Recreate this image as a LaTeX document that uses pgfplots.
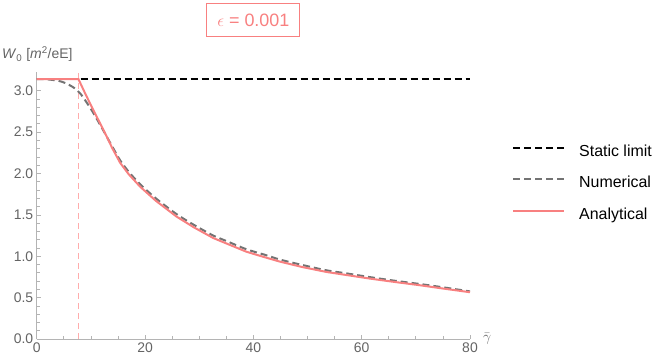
\documentclass[border=0pt]{standalone}
\usepackage{pgfplots}
\pgfplotsset{compat=1.18}
\usepackage{fontspec}
\setmainfont{Liberation Sans}
\definecolor{anaRed}{RGB}{248,128,128}
\definecolor{vertPink}{RGB}{255,172,172}
\definecolor{numGray}{RGB}{115,115,115}
\definecolor{axGray}{RGB}{180,180,180}
\definecolor{lblGray}{RGB}{100,100,100}

\begin{document}
\begin{tikzpicture}
\begin{axis}[
    scale only axis,
    width=433.3bp, height=267.3bp,
    xmin=0, xmax=80, ymin=0, ymax=3.23,
    axis lines=left,
    axis line style={-, color=axGray, line width=0.9bp},
    xtick={0,20,40,60,80}, minor x tick num=3,
    ytick={0,0.5,1.0,1.5,2.0,2.5,3.0}, minor y tick num=4,
    tick align=inside,
    major tick length=4.5bp, minor tick length=3bp,
    tick style={color=axGray, line width=0.7bp},
    tick label style={font=\fontsize{14}{14}\selectfont, color=lblGray},
    /pgf/number format/assume math mode=true,
    yticklabel style={/pgf/number format/.cd, fixed, fixed zerofill, precision=1},
    clip=false,
    legend style={draw=none, fill=none, at={(1,0.580)}, anchor=west,
        xshift=42bp, inner sep=0pt, row sep=16.5bp,
        font=\fontsize{16}{16}\selectfont,
        nodes={inner sep=0pt, text height=11.5bp, text depth=3.5bp}},
    legend cell align=left,
    legend image code/.code={\draw[#1] (0bp,4.5bp) -- (51bp,4.5bp);},
    /tikz/every odd column/.append style={column sep=14bp},
]
% threshold marker
\addplot[vertPink, line width=1.4bp, dash pattern=on 6bp off 4bp, forget plot]
    coordinates {(7.7,0) (7.7,3.23)};

% static limit
\addplot[black, line width=2bp, dash pattern=on 7bp off 4bp]
    coordinates {(0,3.1416) (80,3.1416)};
\addlegendentry{Static limit}

% numerical
\addplot[numGray, line width=2bp, dash pattern=on 7bp off 4bp, smooth]
    coordinates {
    (0,3.140) (2,3.137) (4,3.120) (5,3.100) (6,3.070) (7,3.030) (8,2.970)
    (9,2.880) (10,2.780) (11,2.670) (12.3,2.520) (14,2.320) (15.4,2.160)
    (17,2.020) (19.1,1.870) (22,1.700) (25.8,1.510) (29,1.380) (32.6,1.250)
    (35,1.185) (38.7,1.085) (42,1.020) (44.9,0.960) (49,0.895) (53.5,0.830)
    (57,0.795) (61.5,0.748) (66,0.705) (70.7,0.665) (75,0.625) (80,0.575)
    };
\addlegendentry{Numerical}

% analytical
\addplot[anaRed, line width=2bp]
    coordinates {
    (0,3.1416) (7.7,3.1416) (9,2.960) (10.5,2.760) (12.3,2.530) (14,2.300)
    (15.4,2.130) (17,1.990) (19.1,1.840) (22,1.670) (25.8,1.480) (29,1.350)
    (32.6,1.220) (35,1.155) (38.7,1.055) (42,0.990) (44.9,0.935) (49,0.870)
    (53.5,0.810) (57,0.775) (61.5,0.730) (66,0.690) (70.7,0.650) (75,0.610)
    (80,0.565)
    };
\addlegendentry{Analytical}

\node[draw=anaRed, text=anaRed, line width=1.1bp, minimum width=93bp,
      minimum height=33bp, inner sep=0pt, font=\fontsize{18}{18}\selectfont]
    at ([yshift=51.7bp]rel axis cs:0.5,1) {$\epsilon$ = 0.001};
\node[anchor=base west, inner sep=0pt, text=lblGray,
      font=\fontsize{14}{14}\selectfont]
    at ([xshift=-34.7bp, yshift=12.7bp]rel axis cs:0,1)
    {\textit{W}\textsubscript{0} [\textit{m}\textsuperscript{2}/eE]};
\node[anchor=west, inner sep=0pt, text=lblGray, font=\fontsize{14}{14}\selectfont]
    at ([xshift=13bp, yshift=0bp]rel axis cs:1,0) {$\bar{\gamma}$};
\coordinate (O) at (rel axis cs:0,0);
\end{axis}
\pgfresetboundingbox
\path ([shift={(-36.7bp,-25bp)}]O) rectangle ([shift={(627.3bp,339bp)}]O);
\end{tikzpicture}
\end{document}
